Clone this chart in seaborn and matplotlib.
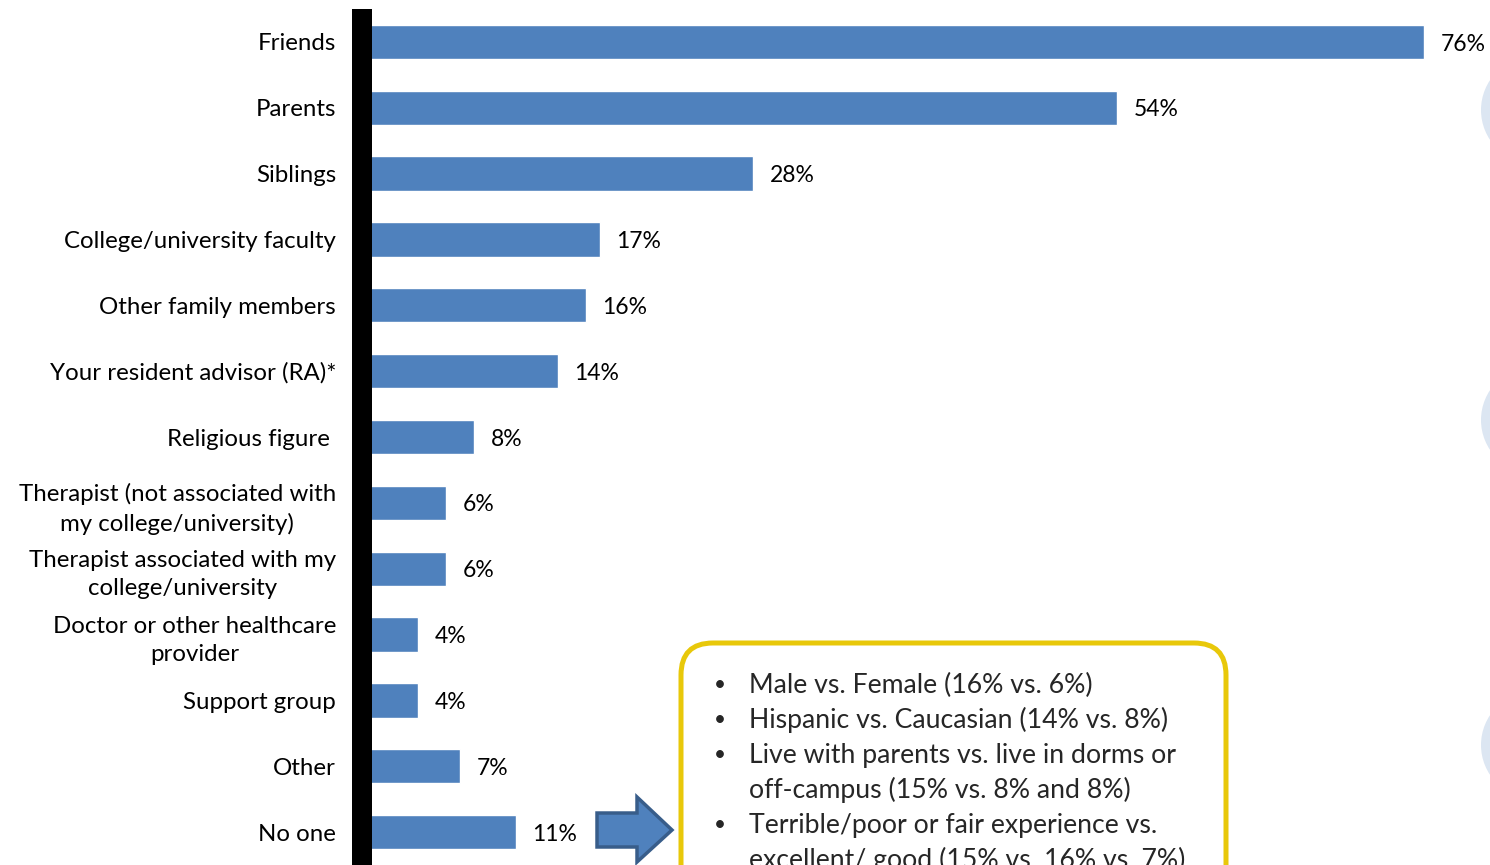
import numpy as np
import pandas as pd
import matplotlib
matplotlib.use('Agg')
import matplotlib.pyplot as plt
import seaborn as sns
from matplotlib.patches import FancyBboxPatch, Polygon, Ellipse
from matplotlib.transforms import IdentityTransform

categories = [
    'Friends', 'Parents', 'Siblings', 'College/university faculty',
    'Other family members', 'Your resident advisor (RA)*', 'Religious figure ',
    'Therapist (not associated with\nmy college/university)',
    'Therapist associated with my\ncollege/university',
    'Doctor or other healthcare\nprovider',
    'Support group', 'Other', 'No one',
]
values = [76, 54, 28, 17, 16, 14, 8, 6, 6, 4, 4, 7, 11]
value_labels = [f'{v}%' for v in values]

# (bullet?, text) for each line of the note box
note_lines = [
    (True, 'Male vs. Female (16% vs. 6%)'),
    (True, 'Hispanic vs. Caucasian (14% vs. 8%)'),
    (True, 'Live with parents vs. live in dorms or'),
    (False, 'off-campus (15% vs. 8% and 8%)'),
    (True, 'Terrible/poor or fair experience vs.'),
    (False, 'excellent/ good (15% vs. 16% vs. 7%)'),
]

BAR = '#4F81BD'
W, H = 1490, 865

sns.set_theme(style='white')
plt.rcParams['font.family'] = ['Lato', 'DejaVu Sans']

df = pd.DataFrame({'source': categories, 'pct': values})

fig = plt.figure(figsize=(W / 100, H / 100), dpi=100)
ax = fig.add_axes([362 / W, 0, (1480 - 362) / W, 856 / H])

sns.barplot(data=df, y='source', x='pct', orient='h', color=BAR,
            saturation=1, width=0.52, ax=ax)
ax.set_xlim(0, 80)
ax.set_ylim(12.5, -0.5)
ax.set_xlabel('')
ax.set_ylabel('')
ax.set_xticks([])

for s in ['top', 'right', 'bottom']:
    ax.spines[s].set_visible(False)
ax.spines['left'].set_color('black')
ax.spines['left'].set_linewidth(20 * 72 / 100)
ax.spines['left'].set_capstyle('butt')
ax.spines['left'].set_zorder(5)

ax.tick_params(axis='y', length=0, pad=18.7, labelsize=17.3)
for lab in ax.get_yticklabels():
    lab.set_multialignment('center')
    lab.set_linespacing(1.42)
    lab.set_color('black')

for i, (v, lab) in enumerate(zip(values, value_labels)):
    ax.annotate(lab, (v, i), xytext=(12, -1.5), textcoords='offset points',
                ha='left', va='center', fontsize=16.5, color='black')

# light blue circles peeking in from the right edge
for cy in [110, 420, 745]:
    fig.patches.append(Ellipse((1535, H - cy), 108, 108, transform=IdentityTransform(),
                               facecolor='#DCE6F2', edgecolor='none', zorder=0))

# rounded note box
fig.patches.append(FancyBboxPatch((681, -60), 545, H - 643 + 60,
                                  boxstyle='round,pad=0,rounding_size=32',
                                  transform=IdentityTransform(),
                                  facecolor='white', edgecolor='#E8C80A',
                                  linewidth=3.6, zorder=3))

line_y = 685
for bullet, line in note_lines:
    if bullet:
        fig.text(714 / W, 1 - line_y / H, '\u2022', fontsize=15, va='center',
                 ha='left', zorder=4)
    fig.text(749 / W, 1 - line_y / H, line, fontsize=19.2, va='center',
             ha='left', zorder=4)
    line_y += 35

# block arrow
arrow = [(597, H - 813), (637, H - 813), (637, H - 797), (672, H - 830),
         (637, H - 862), (637, H - 847), (597, H - 847)]
fig.patches.append(Polygon(arrow, closed=True, transform=IdentityTransform(),
                           facecolor=BAR, edgecolor='#385D8A', linewidth=2.5,
                           zorder=4))

fig.savefig('out.png', dpi=100)
